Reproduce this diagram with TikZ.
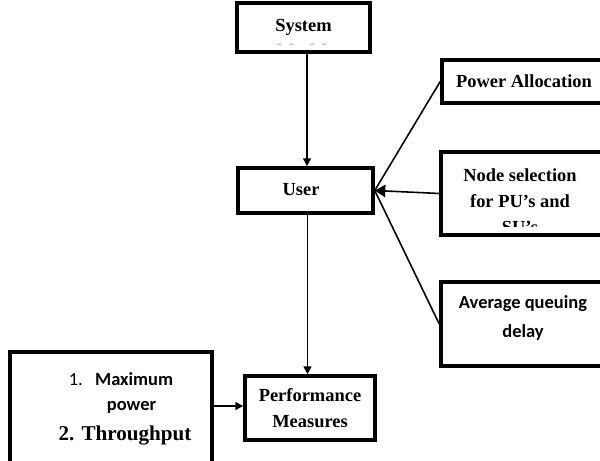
\documentclass[tikz,border=0pt]{standalone}
\usepackage{fontspec}
\setmainfont{Liberation Serif}
\newfontfamily\calfont{Carlito}
\usetikzlibrary{arrows.meta}

\begin{document}
\begin{tikzpicture}[
	blk/.style={draw,line width=2pt,inner sep=0pt},
	lbl/.style={font=\fontsize{10.5}{14}\selectfont\bfseries,align=center,inner sep=0pt},
	con/.style={line width=0.9pt},
	tip/.style={-{Triangle[length=4.5pt,width=4.5pt]}}
]
	\useasboundingbox (0,0) rectangle (12,9.22);
	\clip (0,0) rectangle (12,9.22);

	%system and user
	\node[blk,lbl,minimum width=2.66cm,minimum height=0.98cm] (sys) at (6.07,8.67) {System};
	\node[font=\fontsize{9}{9}\selectfont,text=gray!60,inner sep=0pt] (sysdash) at (6.04,8.29) {-\, -\quad -\, -};
	\node[blk,minimum width=2.70cm,minimum height=0.90cm] (usr) at (6.11,5.41) {};
	\node[lbl] (usrtxt) at (6.02,5.42) {User};

	%right column
	\node[blk,lbl,minimum width=3.28cm,minimum height=0.86cm] (pa) at (10.48,7.59) {Power Allocation};
	\node[blk,minimum width=3.30cm,minimum height=1.66cm] (ns) at (10.47,5.35) {};
	\begin{scope}
		\clip ([yshift=2mm]ns.south west) rectangle (ns.north east);
		\node[lbl,font=\fontsize{10.5}{14.8}\selectfont\bfseries] (nstxt) at (10.40,5.20) {Node selection\\for PU's and\\SU's};
	\end{scope}
	\node[blk,minimum width=3.30cm,minimum height=1.68cm] (aq) at (10.47,2.74) {};
	\node[lbl,font=\calfont\fontsize{10.5}{16.5}\selectfont\bfseries] (aqtxt) at (10.46,2.87) {Average queuing\\delay};

	%bottom row
	\node[blk,minimum width=4.04cm,minimum height=2.46cm] (lft) at (2.22,0.95) {};
	\node[lbl,font=\calfont\fontsize{10.5}{14}\selectfont\bfseries] (mx) at (2.42,1.64) {\mdseries 1.\hspace{7pt}\bfseries Maximum};
	\node[lbl,font=\calfont\fontsize{10.5}{14}\selectfont\bfseries] (pw) at (2.63,1.08) {power};
	\node[lbl,font=\fontsize{12}{14}\selectfont\bfseries] (thr) at (2.50,0.50) {2. Throughput};
	\node[blk,lbl,font=\fontsize{10.5}{14.8}\selectfont\bfseries,minimum width=2.60cm,minimum height=1.28cm] (perf) at (6.20,1.06) {Performance\\Measures};

	%connectors
	\draw[con,tip] ([xshift=0.07cm]sys.south) -- ([xshift=0.07cm]sys.south |- usr.north);
	\draw[con,tip] ([xshift=0.04cm]usr.south) -- ([xshift=0.04cm]usr.south |- perf.north);
	\draw[con,tip] ([yshift=0.04cm]perf.west -| lft.east) -- ([yshift=0.04cm]perf.west);
	\draw[con] (pa.west) -- (usr.east);
	\draw[con,-{Triangle[length=6pt,width=7pt]}] (ns.west) -- (usr.east);
	\draw[con] (aq.west) -- (usr.east);
\end{tikzpicture}
\end{document}
